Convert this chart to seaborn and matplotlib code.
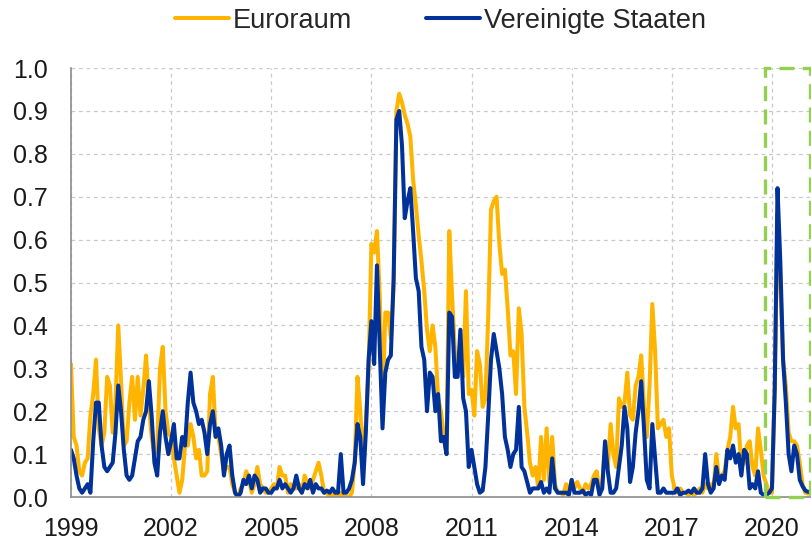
import numpy as np
import pandas as pd
import matplotlib
matplotlib.use("Agg")
import matplotlib.pyplot as plt
from matplotlib.patches import Rectangle
import seaborn as sns

# ---- data (monthly readings, Jan 1999 .. Mar 2021) ----
start_year = 1999
series_names = ["Euroraum", "Vereinigte Staaten"]

euro = [
    0.31, 0.14, 0.12, 0.06, 0.05, 0.08, 0.09, 0.19, 0.24, 0.32, 0.16, 0.12,
    0.15, 0.28, 0.26, 0.15, 0.22, 0.40, 0.27, 0.12, 0.13, 0.22, 0.28, 0.18,
    0.28, 0.19, 0.25, 0.33, 0.22, 0.14, 0.10, 0.12, 0.30, 0.35, 0.20, 0.15,
    0.14, 0.09, 0.05, 0.01, 0.04, 0.12, 0.12, 0.17, 0.14, 0.09, 0.11, 0.05,
    0.05, 0.06, 0.24, 0.28, 0.15, 0.14, 0.10, 0.06, 0.07, 0.07, 0.03, 0.01,
    0.00, 0.02, 0.03, 0.06, 0.04, 0.01, 0.03, 0.07, 0.03, 0.02, 0.01, 0.01,
    0.02, 0.03, 0.02, 0.07, 0.05, 0.05, 0.01, 0.03, 0.02, 0.02, 0.03, 0.01,
    0.05, 0.03, 0.02, 0.04, 0.06, 0.08, 0.05, 0.01, 0.01, 0.00, 0.01, 0.00,
    0.00, 0.01, 0.00, 0.00, 0.00, 0.01, 0.08, 0.28, 0.20, 0.09, 0.17, 0.30,
    0.59, 0.57, 0.62, 0.47, 0.20, 0.43, 0.43, 0.37, 0.49, 0.90, 0.94, 0.92,
    0.89, 0.87, 0.84, 0.74, 0.68, 0.61, 0.55, 0.48, 0.39, 0.34, 0.40, 0.35,
    0.23, 0.20, 0.14, 0.10, 0.62, 0.47, 0.34, 0.29, 0.35, 0.28, 0.48, 0.24,
    0.25, 0.19, 0.34, 0.31, 0.21, 0.23, 0.42, 0.67, 0.69, 0.70, 0.59, 0.52,
    0.53, 0.44, 0.33, 0.34, 0.24, 0.44, 0.38, 0.21, 0.15, 0.08, 0.05, 0.07,
    0.02, 0.14, 0.04, 0.16, 0.035, 0.14, 0.03, 0.01, 0.01, 0.005, 0.03, 0.01,
    0.04, 0.02, 0.035, 0.02, 0.01, 0.03, 0.02, 0.03, 0.05, 0.06, 0.01, 0.035,
    0.12, 0.07, 0.17, 0.10, 0.07, 0.23, 0.21, 0.22, 0.29, 0.19, 0.18, 0.26,
    0.28, 0.33, 0.21, 0.14, 0.26, 0.45, 0.34, 0.16, 0.17, 0.18, 0.14, 0.16,
    0.05, 0.02, 0.01, 0.02, 0.01, 0.01, 0.005, 0.01, 0.005, 0.01, 0.02, 0.01,
    0.03, 0.02, 0.03, 0.02, 0.10, 0.04, 0.05, 0.06, 0.11, 0.14, 0.21, 0.16,
    0.17, 0.07, 0.08, 0.12, 0.13, 0.07, 0.05, 0.16, 0.11, 0.05, 0.03, 0.01,
    0.01, 0.25, 0.66, 0.50, 0.32, 0.26, 0.15, 0.13, 0.13, 0.12, 0.08, 0.03,
    0.01, 0.008, 0.01,
]

us = [
    0.11, 0.09, 0.05, 0.02, 0.01, 0.02, 0.03, 0.01, 0.13, 0.22, 0.22, 0.12,
    0.07, 0.06, 0.07, 0.08, 0.15, 0.26, 0.20, 0.11, 0.05, 0.04, 0.05, 0.09,
    0.13, 0.14, 0.18, 0.20, 0.27, 0.19, 0.08, 0.05, 0.15, 0.20, 0.14, 0.10,
    0.13, 0.17, 0.09, 0.09, 0.14, 0.12, 0.22, 0.29, 0.22, 0.20, 0.17, 0.18,
    0.15, 0.10, 0.17, 0.20, 0.14, 0.16, 0.12, 0.05, 0.10, 0.12, 0.05, 0.01,
    0.00, 0.01, 0.04, 0.03, 0.05, 0.02, 0.05, 0.04, 0.01, 0.02, 0.02, 0.01,
    0.01, 0.02, 0.02, 0.04, 0.02, 0.03, 0.02, 0.01, 0.02, 0.05, 0.02, 0.01,
    0.03, 0.02, 0.04, 0.01, 0.03, 0.02, 0.02, 0.01, 0.015, 0.01, 0.02, 0.01,
    0.01, 0.10, 0.01, 0.01, 0.02, 0.04, 0.08, 0.17, 0.14, 0.03, 0.15, 0.32,
    0.41, 0.31, 0.54, 0.35, 0.16, 0.29, 0.32, 0.33, 0.51, 0.88, 0.90, 0.82,
    0.65, 0.69, 0.72, 0.62, 0.51, 0.48, 0.35, 0.32, 0.20, 0.29, 0.28, 0.20,
    0.24, 0.13, 0.14, 0.10, 0.43, 0.42, 0.28, 0.28, 0.39, 0.23, 0.20, 0.07,
    0.11, 0.07, 0.03, 0.01, 0.015, 0.07, 0.19, 0.32, 0.38, 0.34, 0.30, 0.24,
    0.14, 0.11, 0.07, 0.10, 0.11, 0.21, 0.07, 0.06, 0.035, 0.01, 0.02, 0.02,
    0.02, 0.035, 0.01, 0.02, 0.01, 0.09, 0.02, 0.01, 0.01, 0.01, 0.01, 0.005,
    0.04, 0.01, 0.01, 0.01, 0.015, 0.005, 0.01, 0.005, 0.04, 0.04, 0.005, 0.02,
    0.13, 0.06, 0.01, 0.01, 0.02, 0.07, 0.12, 0.21, 0.16, 0.035, 0.07, 0.15,
    0.20, 0.27, 0.16, 0.04, 0.02, 0.17, 0.09, 0.01, 0.01, 0.02, 0.01, 0.01,
    0.01, 0.01, 0.02, 0.005, 0.01, 0.01, 0.015, 0.01, 0.02, 0.01, 0.01, 0.02,
    0.10, 0.03, 0.01, 0.02, 0.07, 0.03, 0.05, 0.04, 0.11, 0.09, 0.12, 0.08,
    0.10, 0.05, 0.11, 0.10, 0.02, 0.03, 0.02, 0.06, 0.01, 0.005, 0.005, 0.01,
    0.02, 0.25, 0.72, 0.55, 0.32, 0.22, 0.10, 0.06, 0.12, 0.10, 0.04, 0.025,
    0.015, 0.012, 0.012,
]

x_ticks = [1999, 2002, 2005, 2008, 2011, 2014, 2017, 2020]
y_ticks = [0.0, 0.1, 0.2, 0.3, 0.4, 0.5, 0.6, 0.7, 0.8, 0.9, 1.0]
highlight_start, highlight_end = 2019.8, 2021.13

colors = {"Euroraum": "#FFB400", "Vereinigte Staaten": "#003299"}

years = start_year + np.arange(len(euro)) / 12.0
df = pd.concat([
    pd.DataFrame({"year": years, "value": euro, "series": series_names[0]}),
    pd.DataFrame({"year": years, "value": us, "series": series_names[1]}),
])

# ---- style ----
sns.set_theme(style="white")
plt.rcParams["font.family"] = ["Liberation Sans", "DejaVu Sans"]

fig = plt.figure(figsize=(8.11, 5.43), dpi=100)
ax = fig.add_axes([0.0875, 0.0847, 0.9125, 0.79])

sns.lineplot(data=df, x="year", y="value", hue="series", hue_order=series_names,
             palette=colors, linewidth=2.9, estimator=None, sort=False, ax=ax)

ax.set_xlim(1999, 2021.17)
ax.set_ylim(0, 1.0)
ax.set_xticks(x_ticks)
ax.set_xticklabels([str(t) for t in x_ticks])
ax.set_yticks(y_ticks)
ax.set_yticklabels([f"{v:.1f}" for v in y_ticks])
ax.set_xlabel("")
ax.set_ylabel("")

ax.grid(True, color="#C9C9C9", linestyle=(0, (3, 3)), linewidth=0.9)
ax.set_axisbelow(True)
for s in ["top", "right"]:
    ax.spines[s].set_visible(False)
for s in ["left", "bottom"]:
    ax.spines[s].set_color("#8C8C8C")
    ax.spines[s].set_linewidth(1.2)
ax.tick_params(axis="both", which="major", labelsize=18, colors="#8C8C8C",
               labelcolor="#1A1A1A", length=4.5, width=1.2, direction="out")
ax.tick_params(axis="y", pad=12)
ax.tick_params(axis="x", pad=10)

rect = Rectangle((highlight_start, 0.0), highlight_end - highlight_start, 1.0,
                 fill=False, edgecolor="#92D050", linewidth=2.4,
                 linestyle=(0, (4.5, 2.5)), zorder=5, clip_on=False)
ax.add_patch(rect)

handles, labels = ax.get_legend_handles_labels()
if ax.legend_ is not None:
    ax.legend_.remove()
fig.legend(handles, labels, loc="center", bbox_to_anchor=(0.543, 0.962),
           ncol=2, frameon=False, fontsize=19.5, handlelength=2.0,
           handletextpad=0.15, columnspacing=2.7)

fig.savefig("out.png", dpi=100)
